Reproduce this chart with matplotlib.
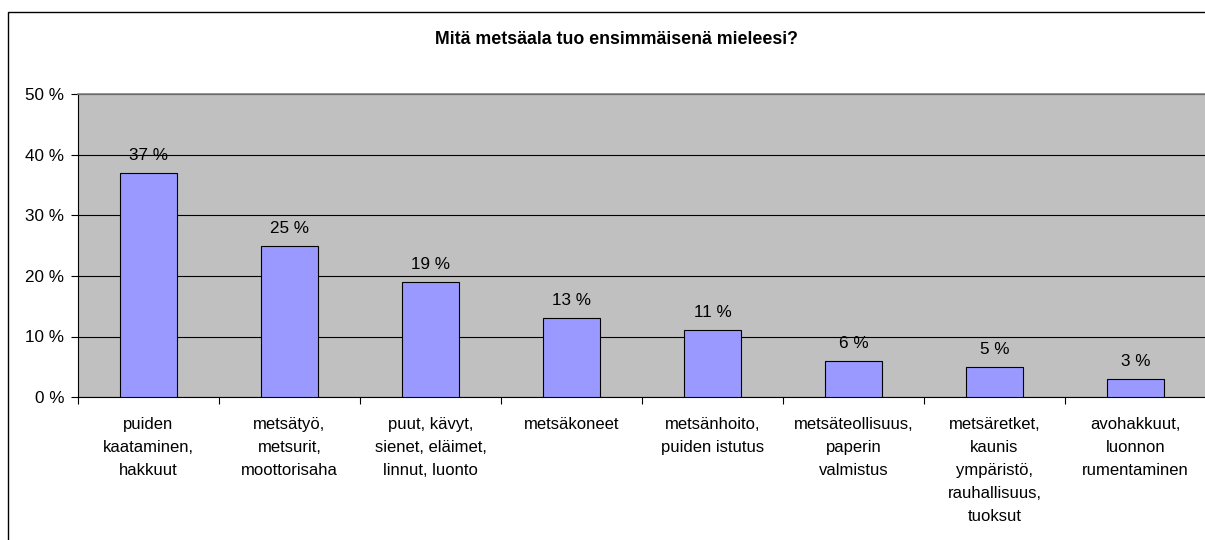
import matplotlib
matplotlib.use("Agg")
import matplotlib.pyplot as plt
from matplotlib.patches import Rectangle
from matplotlib.ticker import MultipleLocator, FixedLocator, NullFormatter

plt.rcParams['font.family'] = ['Liberation Sans', 'DejaVu Sans']

categories = [
    "puiden\nkaataminen,\nhakkuut",
    "metsätyö,\nmetsurit,\nmoottorisaha",
    "puut, kävyt,\nsienet, eläimet,\nlinnut, luonto",
    "metsäkoneet",
    "metsänhoito,\npuiden istutus",
    "metsäteollisuus,\npaperin\nvalmistus",
    "metsäretket,\nkaunis\nympäristö,\nrauhallisuus,\ntuoksut",
    "avohakkuut,\nluonnon\nrumentaminen",
]
values = [37, 25, 19, 13, 11, 6, 5, 3]
title = "Mitä metsäala tuo ensimmäisenä mieleesi?"

W, H = 1205, 540
fig = plt.figure(figsize=(W / 100, H / 100), dpi=100)

# outer chart border (extends past the right and bottom edges)
border = Rectangle((8 / W, -0.2), 1.5, 1.2 - 12 / H,
                   transform=fig.transFigure, fill=False,
                   edgecolor='black', linewidth=1.0, clip_on=False)
fig.patches.append(border)

x0, x1 = 78, 1206
y0, y1 = 397, 94.5
ax = fig.add_axes([x0 / W, (H - y0) / H, (x1 - x0) / W, (y0 - y1) / H])
ax.set_facecolor('#C0C0C0')

n = len(values)
xs = list(range(n))
ax.bar(xs, values, width=0.4, color='#9999FF', edgecolor='black', linewidth=0.8, zorder=3)
ax.set_xlim(-0.5, n - 0.5)
ax.set_ylim(0, 50)

ax.yaxis.set_major_locator(MultipleLocator(10))
ax.set_yticklabels([f"{int(v)} %" for v in ax.get_yticks()])
ax.yaxis.grid(True, color='black', linewidth=0.8, zorder=1)
ax.tick_params(axis='y', direction='out', length=5, width=0.8, labelsize=12.3, pad=5)

ax.xaxis.set_major_locator(FixedLocator([i + 0.5 for i in range(-1, n)]))
ax.xaxis.set_major_formatter(NullFormatter())
ax.tick_params(axis='x', which='major', direction='out', length=5, width=0.8)
ax.xaxis.set_minor_locator(FixedLocator(xs))
ax.set_xticklabels(categories, minor=True)
ax.tick_params(axis='x', which='minor', length=0, labelsize=12, pad=14.5)
for lab in ax.get_xticklabels(minor=True):
    lab.set_linespacing(1.66)
    lab.set_verticalalignment('top')

for s in ['left', 'bottom']:
    ax.spines[s].set_color('black')
    ax.spines[s].set_linewidth(0.8)
ax.spines['top'].set_color('#808080')
ax.spines['top'].set_linewidth(1.2)
ax.spines['right'].set_visible(False)

for x, v in zip(xs, values):
    ax.annotate(f"{v} %", (x, v), xytext=(0, 9.5), textcoords='offset points',
                ha='center', va='baseline', fontsize=12.3, zorder=4)

fig.text(616 / W, 1 - 40 / H, title, ha='center', va='center',
         fontsize=12.8, fontweight='bold')

fig.savefig('out.png', dpi=100)
